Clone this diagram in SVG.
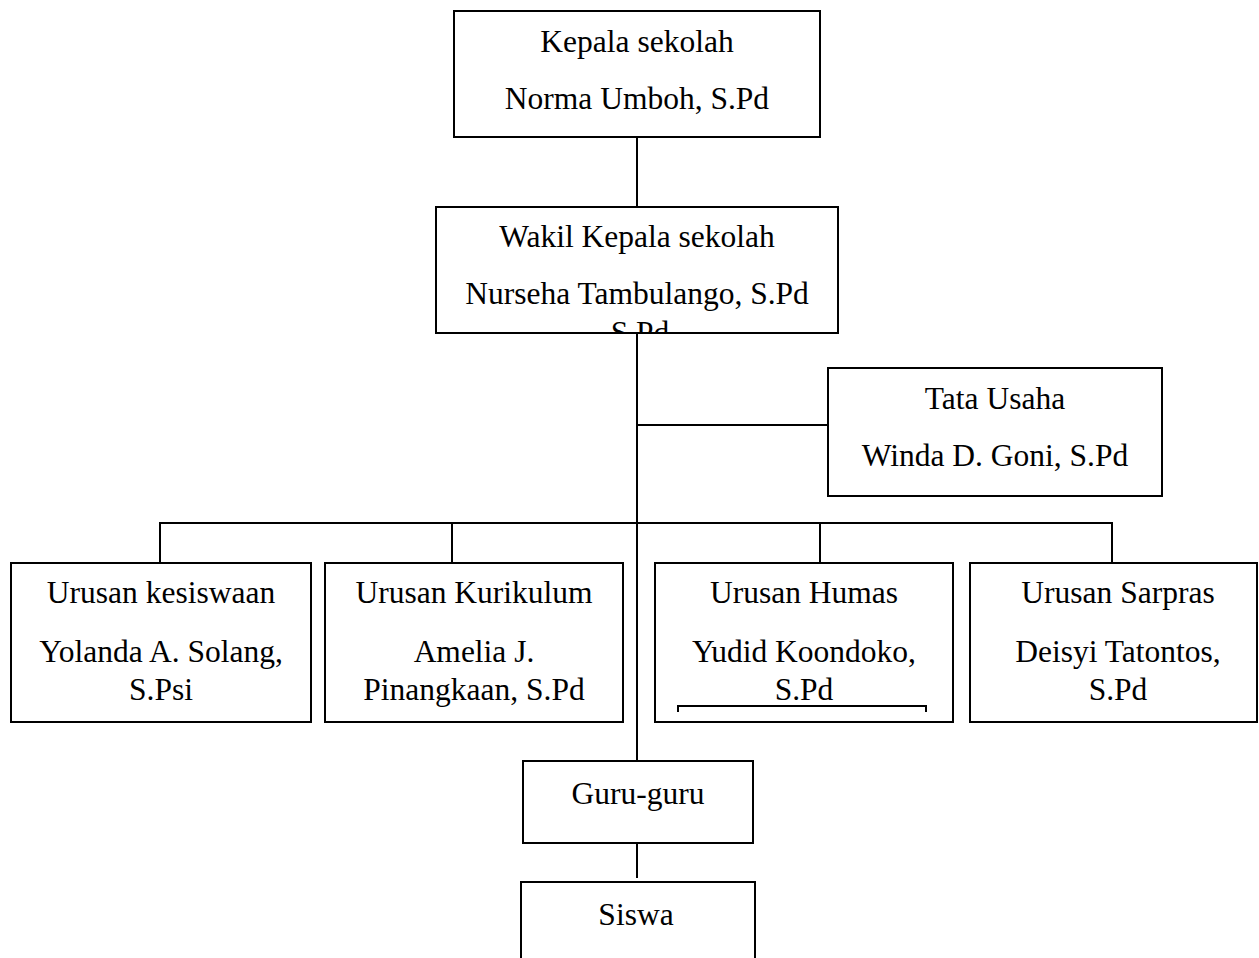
<svg xmlns="http://www.w3.org/2000/svg" width="1259" height="958" viewBox="0 0 1259 958">
<style>
.box{fill:#fff;stroke:#000;stroke-width:2}
.ln{fill:none;stroke:#000;stroke-width:2}
text{font-family:"Liberation Serif","Times New Roman",serif;font-size:31.5px;fill:#000;text-anchor:middle}
</style>
<defs>
<clipPath id="wakilClip"><rect x="437" y="208" width="400" height="124"/></clipPath>
</defs>
<rect width="1259" height="958" fill="#fff"/>
<g id="connectors">
<path class="ln" d="M637 137V207"/>
<path class="ln" d="M637 333V761"/>
<path class="ln" d="M637 425H828"/>
<path class="ln" d="M160 563V523H1112V563"/>
<path class="ln" d="M452 523V563"/>
<path class="ln" d="M820 523V563"/>
<path class="ln" d="M637 843V878"/>
</g>
<g id="kepala">
<rect class="box" x="454" y="11" width="366" height="126"/>
<text x="637" y="52">Kepala sekolah</text>
<text x="637" y="109">Norma Umboh, S.Pd</text>
</g>
<g id="wakil">
<rect class="box" x="436" y="207" width="402" height="126"/>
<text x="637" y="247">Wakil Kepala sekolah</text>
<text x="637" y="304">Nurseha Tambulango, S.Pd</text>
<text x="640" y="343" clip-path="url(#wakilClip)">S.Pd</text>
</g>
<g id="tatausaha">
<rect class="box" x="828" y="368" width="334" height="128"/>
<text x="995" y="409">Tata Usaha</text>
<text x="995" y="466">Winda D. Goni, S.Pd</text>
</g>
<g id="kesiswaan">
<rect class="box" x="11" y="563" width="300" height="159"/>
<text x="161" y="603">Urusan kesiswaan</text>
<text x="161" y="662">Yolanda A. Solang,</text>
<text x="161" y="700">S.Psi</text>
</g>
<g id="kurikulum">
<rect class="box" x="325" y="563" width="298" height="159"/>
<text x="474" y="603">Urusan Kurikulum</text>
<text x="474" y="662">Amelia J.</text>
<text x="474" y="700">Pinangkaan, S.Pd</text>
</g>
<g id="humas">
<rect class="box" x="655" y="563" width="298" height="159"/>
<text x="804" y="603">Urusan Humas</text>
<text x="804" y="662">Yudid Koondoko,</text>
<text x="804" y="700">S.Pd</text>
<path class="ln" d="M678 712V706H926V712"/>
</g>
<g id="sarpras">
<rect class="box" x="970" y="563" width="287" height="159"/>
<text x="1118" y="603">Urusan Sarpras</text>
<text x="1118" y="662">Deisyi Tatontos,</text>
<text x="1118" y="700">S.Pd</text>
</g>
<g id="guru">
<rect class="box" x="523" y="761" width="230" height="82"/>
<text x="638" y="804">Guru-guru</text>
</g>
<g id="siswa">
<rect class="box" x="521" y="882" width="234" height="100"/>
<text x="636" y="925">Siswa</text>
</g>
</svg>
